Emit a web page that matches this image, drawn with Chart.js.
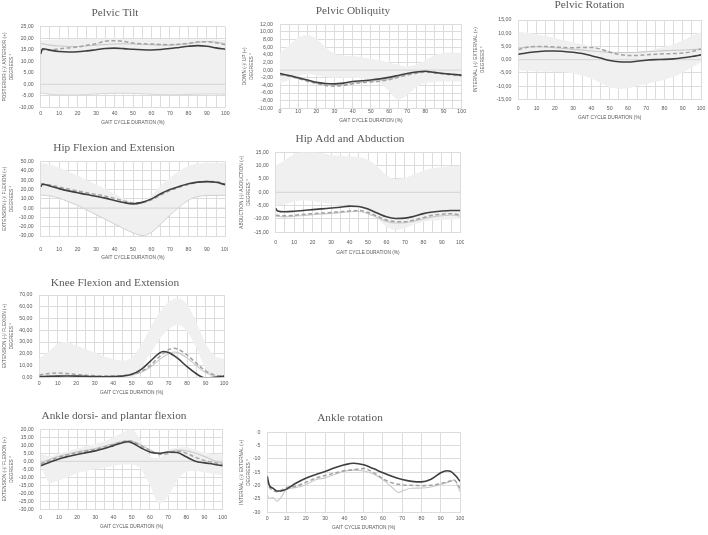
<!DOCTYPE html>
<html>
<head>
<meta charset="utf-8">
<script src="https://cdn.jsdelivr.net/npm/chart.js@4.4.1/dist/chart.umd.min.js"></script>
<style>
  html, body { margin: 0; padding: 0; background: #fff; width: 708px; height: 535px; overflow: hidden; position: relative; }
  canvas { position: absolute; }
</style>
</head>
<body>
<script>
// gait cycle sample points (%)
const PCT = [0, 5, 10, 15, 20, 25, 30, 35, 40, 45, 50, 55, 60, 65, 70, 75, 80, 85, 90, 95, 100];
const PCT_HOOK = [0, 1, 5, 10, 15, 20, 25, 30, 35, 40, 45, 50, 55, 60, 65, 70, 75, 80, 85, 90, 95, 100];

// Pelvic tilt
const tiltDark   = [13.2, 15.4, 14.8, 14.2, 14.0, 14.1, 14.5, 15.0, 15.5, 15.7, 15.5, 15.2, 15.0, 14.9, 15.1, 15.5, 16.0, 16.5, 16.8, 16.5, 15.8, 15.2];
const tiltDashed = [15.0, 15.0, 15.4, 15.8, 16.2, 16.9, 17.6, 18.7, 18.9, 18.6, 17.9, 17.6, 17.5, 17.3, 17.2, 17.4, 17.8, 18.4, 18.5, 18.0, 17.2];
const tiltLight  = [17.7, 17.0, 16.6, 16.4, 16.4, 16.6, 17.0, 17.3, 17.5, 17.6, 17.5, 17.3, 17.2, 17.0, 17.0, 17.2, 17.6, 18.2, 18.6, 18.3, 17.6];
const tiltBandHi = [19.0, 19.3, 19.5, 19.6, 19.6, 19.7, 19.8, 19.8, 19.8, 19.7, 19.6, 19.5, 19.5, 19.5, 19.5, 19.6, 19.6, 19.6, 19.5, 19.4, 19.2];
const tiltBandLo = [-3.8, -4.3, -4.6, -4.7, -4.6, -4.4, -4.2, -4.0, -3.9, -3.9, -4.0, -4.1, -4.3, -4.5, -4.6, -4.5, -4.4, -4.3, -4.2, -4.2, -4.3];

// Pelvic obliquity
const oblDark   = [-0.9, -1.4, -2.0, -2.6, -3.2, -3.5, -3.6, -3.4, -3.0, -2.8, -2.6, -2.3, -1.9, -1.4, -0.9, -0.5, -0.3, -0.6, -0.9, -1.1, -1.3];
const oblDashed = [-1.2, -1.6, -2.2, -2.9, -3.5, -4.0, -4.2, -4.0, -3.6, -3.3, -3.1, -2.9, -2.5, -1.9, -1.3, -0.8, -0.5, -0.7, -1.0, -1.3, -1.5];
const oblLight  = [-1.1, -1.5, -2.1, -2.8, -3.4, -3.8, -4.0, -3.8, -3.4, -3.1, -2.9, -2.7, -2.3, -1.7, -1.1, -0.6, -0.4, -0.6, -0.9, -1.2, -1.4];
const oblBandHi = [4.5, 6.5, 8.5, 9.2, 8.2, 6.0, 4.3, 3.8, 3.6, 3.4, 3.0, 2.6, 2.0, 1.4, 1.0, 1.4, 2.6, 3.8, 4.5, 4.6, 4.5];
const oblBandLo = [-3.5, -2.6, -1.6, -1.1, -1.4, -1.8, -2.0, -2.0, -2.0, -2.2, -2.6, -3.4, -5.5, -7.8, -6.5, -4.5, -3.4, -3.1, -3.0, -3.0, -3.0];

// Pelvic rotation
const rotDark   = [2.0, 2.6, 3.0, 3.3, 3.3, 3.1, 2.8, 2.3, 1.5, 0.6, -0.3, -0.8, -0.9, -0.6, -0.2, 0.0, 0.1, 0.3, 0.7, 1.2, 1.8];
const rotDashed = [3.8, 4.7, 5.0, 5.0, 4.8, 4.6, 4.5, 4.6, 4.6, 4.0, 2.8, 2.0, 1.6, 1.6, 1.8, 2.0, 2.2, 2.3, 2.5, 3.0, 4.0];
const rotLight  = [4.5, 4.8, 4.9, 4.8, 4.5, 4.2, 3.9, 3.6, 3.3, 3.0, 2.8, 2.7, 2.7, 2.8, 3.0, 3.2, 3.4, 3.5, 3.6, 3.8, 4.0];
const rotBandHi = [10.5, 10.2, 9.6, 8.9, 8.2, 7.3, 6.5, 5.8, 5.0, 4.2, 3.4, 2.7, 2.5, 2.8, 3.3, 4.0, 4.8, 5.8, 7.2, 9.0, 10.5];
const rotBandLo = [-4.0, -4.3, -4.5, -4.5, -4.6, -4.8, -5.2, -6.0, -7.2, -8.8, -10.3, -11.0, -10.8, -10.0, -9.2, -8.5, -7.6, -6.5, -5.0, -3.0, -1.0];

// Hip flexion / extension
const hipDark   = [23.0, 25.8, 23.8, 21.0, 18.6, 16.6, 14.6, 12.8, 10.8, 8.3, 6.0, 4.6, 6.2, 10.0, 15.5, 20.0, 23.3, 26.2, 28.0, 28.6, 27.8, 25.2];
const hipDashed = [26.5, 25.0, 22.8, 20.6, 18.5, 16.5, 14.8, 12.8, 10.5, 7.8, 5.8, 6.0, 9.0, 14.0, 18.8, 22.5, 25.5, 27.8, 28.8, 28.4, 26.0];
const hipBandHi = [48.5, 47.0, 43.5, 39.5, 35.0, 30.0, 25.5, 20.5, 15.5, 10.5, 7.0, 7.0, 14.0, 24.5, 33.0, 40.0, 45.5, 48.0, 49.0, 49.0, 49.0];
const hipBandLo = [14.0, 13.2, 10.8, 7.0, 3.0, -2.0, -7.0, -12.0, -17.0, -22.0, -26.5, -29.5, -26.0, -17.0, -7.5, 1.0, 8.5, 12.5, 13.6, 13.8, 13.8];

// Hip adduction / abduction
const addDark   = [-6.0, -7.0, -7.3, -7.1, -6.8, -6.5, -6.2, -5.9, -5.6, -5.2, -5.3, -6.3, -7.8, -9.2, -9.8, -9.7, -9.0, -8.0, -7.4, -7.0, -6.8, -6.8];
const addDashed = [-8.6, -8.8, -8.6, -8.3, -8.0, -7.8, -7.6, -7.3, -7.0, -6.8, -7.6, -9.0, -10.4, -11.0, -11.0, -10.4, -9.5, -8.6, -8.2, -8.0, -8.6];
const addLight  = [-9.0, -9.2, -9.0, -8.7, -8.4, -8.1, -7.9, -7.6, -7.3, -7.2, -8.0, -9.5, -10.9, -11.5, -11.4, -10.8, -10.0, -9.2, -8.8, -8.5, -9.0];
const addBandHi = [10.0, 12.0, 14.3, 15.0, 15.0, 14.6, 14.0, 13.7, 13.5, 13.2, 12.2, 9.8, 6.5, 5.0, 5.4, 6.8, 8.2, 9.0, 9.5, 9.8, 10.0];
const addBandLo = [-5.0, -4.5, -3.5, -3.0, -3.3, -3.8, -4.3, -4.7, -5.0, -5.6, -7.0, -9.8, -12.8, -14.2, -13.5, -12.0, -11.0, -10.6, -10.4, -10.2, -10.0];

// Knee flexion / extension
const kneeDarkX   = [0, 5, 10, 15, 20, 25, 30, 35, 40, 45, 50, 55, 60, 65, 67, 70, 75, 80, 85, 88, 90, 95, 100];
const kneeDark    = [0.6, 0.8, 1.0, 1.1, 1.0, 0.8, 0.6, 0.5, 0.6, 1.0, 2.5, 6.5, 13.5, 20.5, 22.0, 21.0, 16.0, 9.0, 3.0, 0.3, -0.5, 0.0, 1.0];
const kneeOtherX  = [0, 5, 10, 15, 20, 25, 30, 35, 40, 45, 50, 55, 60, 65, 70, 73, 75, 80, 85, 90, 95, 100];
const kneeDashed  = [2.0, 3.2, 3.6, 3.2, 2.4, 1.8, 1.3, 1.0, 1.0, 1.4, 2.5, 5.0, 10.0, 17.5, 23.5, 24.8, 24.0, 19.0, 12.0, 5.5, 2.0, 1.0];
const kneeLight   = [0.5, 1.0, 1.5, 1.8, 1.5, 1.0, 0.8, 0.8, 0.9, 1.2, 2.0, 4.0, 8.5, 15.0, 20.0, 21.5, 21.0, 16.5, 10.0, 4.0, 1.0, 0.5];
const kneeBandHi  = [16, 22, 28.5, 30, 27, 24, 21, 18, 15.5, 14, 17, 27, 42, 55, 64, 67.5, 62, 47, 29, 18, 16];
const kneeBandLo  = [0, 0, 0, 0, 0, 0, 0, 0, 0, 0, 0, 7, 20, 32, 41, 44.5, 39, 25, 8, 0, 0];

// Ankle dorsi / plantar flexion
const ankleX       = [0, 5, 10, 15, 20, 25, 30, 35, 40, 45, 48, 50, 55, 60, 65, 70, 75, 80, 85, 90, 95, 100];
const ankleDark    = [-2.8, -0.6, 1.5, 3.0, 4.3, 5.4, 6.5, 8.0, 9.8, 11.6, 12.2, 11.6, 8.5, 5.8, 5.0, 5.8, 5.5, 2.8, 0.0, -1.0, -1.8, -2.8];
const ankleDashed  = [-1.5, 0.6, 2.6, 4.1, 5.4, 6.4, 7.5, 8.9, 10.5, 12.2, 12.8, 12.5, 9.8, 6.8, 4.3, 4.8, 6.3, 5.0, 2.5, 0.5, -0.8, -2.0];
const ankleLight   = [-1.0, 1.2, 3.2, 4.6, 5.9, 7.0, 8.0, 9.4, 11.0, 12.5, 13.0, 12.6, 10.2, 7.2, 5.0, 6.0, 7.0, 6.6, 5.0, 3.0, 0.5, -1.2];
const ankleBandHi  = [5, 3, 5, 6.5, 8, 9.5, 11, 12.5, 15, 18, 20, 13, 3, 2, 7, 8.5, 9, 7, 5.5, 4.5, 4];
const ankleBandLo  = [-2.5, -13.5, -12, -10, -7.5, -6, -5, -4, -3, -2, -2, -5, -15, -26.5, -22, -12, -6.5, -6, -7, -8, -9];

// Ankle rotation
const arDarkX   = [0, 1, 3, 5, 7, 10, 15, 20, 25, 30, 35, 40, 45, 50, 55, 60, 65, 70, 75, 80, 85, 90, 93, 95, 98, 100];
const arDark    = [-16.5, -19.8, -21.0, -22.0, -22.0, -21.3, -19.0, -17.2, -15.9, -14.7, -13.3, -12.2, -11.6, -12.2, -13.6, -15.2, -16.6, -17.7, -18.4, -18.6, -17.6, -15.2, -14.4, -14.6, -16.5, -18.4];
const arDashedX = [0, 1, 3, 5, 7, 10, 15, 20, 25, 30, 35, 40, 45, 50, 55, 60, 65, 70, 75, 80, 85, 90, 95, 97, 100];
const arDashed  = [-18.0, -20.5, -21.8, -22.3, -21.8, -20.8, -20.2, -18.8, -17.2, -16.2, -15.3, -14.4, -14.0, -13.6, -15.0, -17.4, -19.0, -19.7, -19.9, -20.0, -19.9, -19.2, -18.3, -18.0, -21.0];
const arLightX  = [0, 1, 3, 5, 7, 10, 15, 20, 25, 30, 35, 40, 45, 50, 55, 60, 63, 66, 68, 70, 75, 80, 85, 90, 95, 97, 100];
const arLight   = [-23.5, -24.8, -24.5, -25.9, -24.5, -21.5, -20.7, -19.7, -17.8, -17.1, -15.8, -14.6, -14.2, -14.5, -15.6, -17.8, -19.5, -21.5, -22.6, -22.0, -21.0, -20.9, -20.5, -19.6, -18.4, -17.8, -22.3];

const GREY_TEXT = '#595959';
const GRID = '#dcdcdc';
const BAND = '#f0f0f0';
const TICK_FONT = { family: 'Liberation Sans', size: 5.2 };
const AXIS_FONT = { family: 'Liberation Sans', size: 4.8, lineHeight: 1.45 };
const TITLE_FONT = { family: 'Liberation Serif', size: 11.3, weight: 'normal' };
const TITLE_LH = TITLE_FONT.size * 1.2;
const AXIS_LH = AXIS_FONT.size * AXIS_FONT.lineHeight;
const TICK_LH = TICK_FONT.size * 1.2;

const pts = (xs, ys) => xs.map((x, i) => ({ x: x, y: ys[i] }));

const dark   = (d) => ({ data: d, borderColor: '#3f3f3f', borderWidth: 1.6 });
const dashed = (d) => ({ data: d, borderColor: '#a3a3a3', borderWidth: 1.5, borderDash: [4, 2.5] });
const light  = (d) => ({ data: d, borderColor: '#c9c9c9', borderWidth: 1.1 });

const panels = [
  { title: 'Pelvic Tilt', yTitle: ['POSTERIOR (-)/ ANTERIOR (+)', 'DEGREES °'],
    y: [-10, 25, 5], x: 0, w: 230, area: { l: 40.7, r: 225.3, t: 26.7, b: 107.3 },
    titleY: 12.7, tickY: 114, xTitleY: 122.7, yTitleX: 5, zero: true, loEdge: '#d6d6d6',
    lines: [dark(pts(PCT_HOOK, tiltDark)), dashed(pts(PCT, tiltDashed)), light(pts(PCT, tiltLight))],
    band: [pts(PCT, tiltBandHi), pts(PCT, tiltBandLo)] },
  { title: 'Pelvic Obliquity', yTitle: ['DOWN (-)/ UP (+)', 'DEGREES °'],
    y: [-10, 12, 2], x: 236, w: 234, area: { l: 280, r: 461.7, t: 24.3, b: 108.3 },
    titleY: 11, tickY: 111.7, xTitleY: 120.7, yTitleX: 245, zero: true,
    lines: [dark(pts(PCT, oblDark)), dashed(pts(PCT, oblDashed)), light(pts(PCT, oblLight))],
    band: [pts(PCT, oblBandHi), pts(PCT, oblBandLo)] },
  { title: 'Pelvic Rotation', yTitle: ['INTERNAL (-)/ EXTERNAL (+)', 'DEGREES °'],
    y: [-15, 15, 5], x: 471, w: 237, area: { l: 518.3, r: 701, t: 20, b: 99.3 },
    titleY: 5.5, tickY: 108.3, xTitleY: 117.7, yTitleX: 476, zero: true,
    lines: [dark(pts(PCT, rotDark)), dashed(pts(PCT, rotDashed)), light(pts(PCT, rotLight))],
    band: [pts(PCT, rotBandHi), pts(PCT, rotBandLo)] },
  { title: 'Hip Flexion and Extension', yTitle: ['EXTENSION (-)/ FLEXION (+)', 'DEGREES °'],
    y: [-30, 50, 10], x: 0, w: 228, area: { l: 40.7, r: 225.3, t: 161.7, b: 236 },
    titleY: 148.3, tickY: 249.3, xTitleY: 257.7, yTitleX: 5, zero: true, loEdge: '#d0d0d0',
    lines: [dark(pts(PCT_HOOK, hipDark)), dashed(pts(PCT, hipDashed))],
    band: [pts(PCT, hipBandHi), pts(PCT, hipBandLo)] },
  { title: 'Hip Add and Abduction', yTitle: ['ABDUCTION (-)/ ADDUCTION (+)', 'DEGREES °'],
    y: [-15, 15, 5], x: 236, w: 228, area: { l: 275.7, r: 460.3, t: 152.3, b: 232.3 },
    titleY: 139.3, tickY: 242.7, xTitleY: 252.3, yTitleX: 241.5, zero: true,
    lines: [dark(pts(PCT_HOOK, addDark)), dashed(pts(PCT, addDashed)), light(pts(PCT, addLight))],
    band: [pts(PCT, addBandHi), pts(PCT, addBandLo)] },
  { title: 'Knee Flexion and Extension', yTitle: ['EXTENSION (-)/ FLEXION (+)', 'DEGREES °'],
    y: [0, 70, 10], x: 0, w: 230, area: { l: 39.3, r: 224, t: 295, b: 377.3 },
    titleY: 283.3, tickY: 383.3, xTitleY: 392.3, yTitleX: 5, zero: false,
    lines: [dark(pts(kneeDarkX, kneeDark)), dashed(pts(kneeOtherX, kneeDashed)), light(pts(kneeOtherX, kneeLight))],
    band: [pts(PCT, kneeBandHi), pts(PCT, kneeBandLo)] },
  { title: 'Ankle dorsi- and plantar flexion', yTitle: ['EXTENSION (-)/ FLEXION (+)', 'DEGREES °'],
    y: [-30, 20, 5], x: 0, w: 228, area: { l: 40.7, r: 222.7, t: 429.3, b: 509.3 },
    titleY: 415.7, tickY: 517.3, xTitleY: 526.7, yTitleX: 5, zero: true,
    lines: [dark(pts(ankleX, ankleDark)), dashed(pts(ankleX, ankleDashed)), light(pts(ankleX, ankleLight))],
    band: [pts(PCT, ankleBandHi), pts(PCT, ankleBandLo)] },
  { title: 'Ankle rotation', yTitle: ['INTERNAL (-)/ EXTERNAL (+)', 'DEGREES °'],
    y: [-30, 0, 5], xStep: 10, intTicks: true, x: 236, w: 228, area: { l: 267.3, r: 460, t: 432.3, b: 512.3 },
    titleY: 418.3, tickY: 519, xTitleY: 527.7, yTitleX: 241.5, zero: false,
    lines: [dark(pts(arDarkX, arDark)), dashed(pts(arDashedX, arDashed)), light(pts(arLightX, arLight))],
    band: null }
];

const noPad = (s) => { s.paddingLeft = 0; s.paddingRight = 0; s.paddingTop = 0; s.paddingBottom = 0; };

// zero line drawn on top of the band, under the curves
const zeroLine = {
  id: 'zeroLine',
  afterDatasetDraw(chart, args, opts) {
    if (!opts.on || args.index !== opts.after) return;
    const { ctx, chartArea } = chart;
    const yy = chart.scales.y.getPixelForValue(0);
    ctx.save();
    ctx.strokeStyle = '#d4d4d4';
    ctx.lineWidth = 1;
    ctx.beginPath();
    ctx.moveTo(chartArea.left, yy);
    ctx.lineTo(chartArea.right, yy);
    ctx.stroke();
    ctx.restore();
  }
};

panels.forEach((p) => {
  const top = Math.floor(p.titleY - TITLE_LH / 2);
  const height = Math.ceil(p.xTitleY + AXIS_LH / 2 + 0.5) - top;
  const c = document.createElement('canvas');
  c.width = p.w;
  c.height = height;
  c.style.left = p.x + 'px';
  c.style.top = top + 'px';
  document.body.appendChild(c);

  const a = p.area;
  const yW = a.l - p.x;
  const xH = top + height - a.b;
  const rW = p.x + p.w - a.r;
  const tTop = p.titleY - top - TITLE_LH / 2;
  const tBottom = a.t - top - TITLE_LH - tTop;

  const datasets = p.lines.map((l) => Object.assign({ fill: false }, l));
  let bandIndex = -1;
  if (p.band) {
    bandIndex = datasets.length;
    datasets.push({ data: p.band[0], borderWidth: 0, borderColor: BAND, fill: false });
    datasets.push({ data: p.band[1], borderWidth: p.loEdge ? 1 : 0, borderColor: p.loEdge || BAND,
                    backgroundColor: BAND, fill: '-1' });
  }

  new Chart(c, {
    type: 'line',
    data: { datasets: datasets },
    options: {
      responsive: false,
      animation: false,
      events: [],
      layout: { padding: 0 },
      elements: {
        point: { radius: 0 },
        line: { cubicInterpolationMode: 'monotone' }
      },
      plugins: {
        legend: { display: false },
        tooltip: { enabled: false },
        title: {
          display: true, text: p.title, color: GREY_TEXT, font: TITLE_FONT,
          padding: { top: tTop, bottom: tBottom }
        },
        zeroLine: { on: p.zero, after: bandIndex + 1 }
      },
      scales: {
        x: {
          type: 'linear', min: 0, max: 100,
          grid: { color: GRID, drawTicks: false },
          border: { color: GRID },
          ticks: {
            stepSize: p.xStep || 5, autoSkip: false, maxRotation: 0, color: GREY_TEXT, font: TICK_FONT,
            padding: p.tickY - a.b - TICK_LH / 2,
            callback: (v) => (v % 10 === 0 ? String(v) : '')
          },
          title: {
            display: true, text: 'GAIT CYCLE DURATION (%)', color: GREY_TEXT, font: AXIS_FONT,
            padding: { top: 0, bottom: top + height - p.xTitleY - AXIS_LH / 2 }
          },
          afterFit: (s) => { s.height = xH; noPad(s); }
        },
        y: {
          type: 'linear', position: 'left', min: p.y[0], max: p.y[1],
          grid: { color: GRID, drawTicks: false },
          border: { color: GRID },
          ticks: {
            stepSize: p.y[2], autoSkip: false, color: GREY_TEXT, font: TICK_FONT, padding: 7,
            callback: (v) => (p.intTicks ? String(v) : v.toFixed(2).replace('.', ','))
          },
          title: {
            display: true, text: p.yTitle, color: GREY_TEXT, font: AXIS_FONT,
            padding: { top: p.yTitleX - p.x - AXIS_LH / 2, bottom: 0 }
          },
          afterFit: (s) => { s.width = yW; noPad(s); }
        },
        spacer: {
          type: 'linear', position: 'right', display: true,
          grid: { display: false, drawTicks: false },
          border: { display: false },
          ticks: { display: false },
          afterFit: (s) => { s.width = rW; noPad(s); }
        }
      }
    },
    plugins: [zeroLine]
  });
});
</script>
</body>
</html>
